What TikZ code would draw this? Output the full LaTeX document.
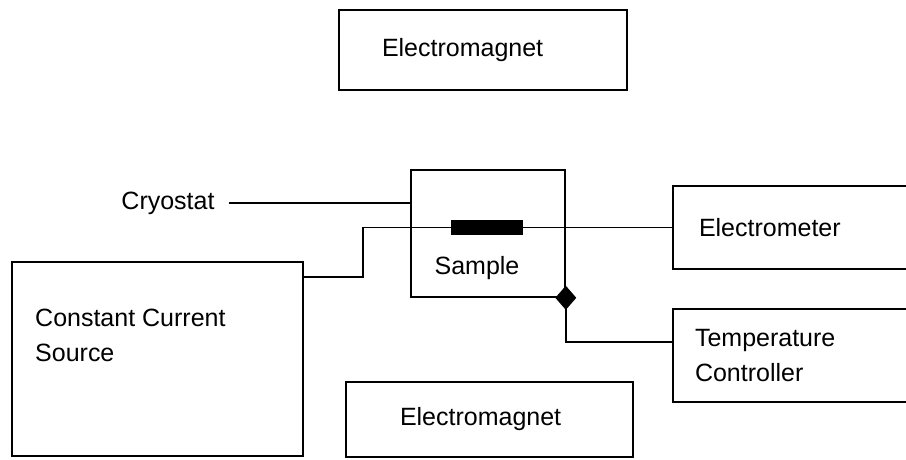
\documentclass[tikz,border=0pt]{standalone}
\usepackage{fontspec}
\setmainfont{Liberation Sans}
\usetikzlibrary{shapes.geometric}
\pgfdeclarelayer{edgelayer}
\pgfdeclarelayer{nodelayer}
\pgfsetlayers{edgelayer,nodelayer,main}
\tikzstyle{edge}=[draw=black, line width=1.6pt]
\tikzstyle{box}=[rectangle, draw=black, line width=1.6pt, align=left, inner ysep=0pt]
\tikzstyle{caption}=[inner sep=2pt, align=left]
\tikzstyle{bar}=[rectangle, fill=black, minimum width=72pt, minimum height=15pt, inner sep=0pt]
\tikzstyle{junction}=[diamond, fill=black, draw=black, line width=1pt, inner sep=0pt, minimum width=20pt, minimum height=23pt]

\begin{document}
\begin{tikzpicture}[x=1pt, y=-1pt, font=\fontsize{25}{35}\selectfont]
			\useasboundingbox (0, 0) rectangle (906, 459);
			\begin{pgfonlayer}{nodelayer}
			\node [style=box, text width=202pt, inner xsep=43pt, minimum height=80pt] (1) at (483, 50) {Electromagnet};
			\node [style=box, text width=179pt, inner xsep=54pt, minimum height=75pt] (2) at (489.5, 419.5) {Electromagnet};
			\node [style=box, text width=195pt, inner xsep=26pt, minimum height=83pt] (3) at (796.5, 227.5) {Electrometer};
			\node [style=box, text width=203pt, inner xsep=22pt, minimum height=93pt] (4) at (796.5, 355.5) {Temperature\\Controller};
			\node [style=box, minimum width=291pt, minimum height=194pt] (5) at (157.5, 359) {};
			\node [style=caption, anchor=west] (6) at (33, 335) {Constant Current\\Source};
			\node [style=box, minimum width=154pt, minimum height=127pt] (7) at (488, 233.5) {};
			\node [style=caption] (8) at (168, 203) {Cryostat};
			\node [style=bar] (9) at (487, 227.5) {};
			\node [style=caption] (10) at (477, 268) {Sample};
			\node [style=junction] (11) at (7.south east) {};
			\coordinate (12) at (303, 277);
			\coordinate (13) at (363, 277);
			\coordinate (14) at (673, 342);
			\end{pgfonlayer}
			\begin{pgfonlayer}{edgelayer}
			\draw [style=edge] ([xshift=12pt]8.east) to (8.east -| 7.west);
			\draw [style=edge] (12) -- (13) |- (9.west);
			\draw [style=edge] (9.east) to (3.west);
			\draw [style=edge] (11.center) |- (14);
			\end{pgfonlayer}
\end{tikzpicture}
\end{document}
